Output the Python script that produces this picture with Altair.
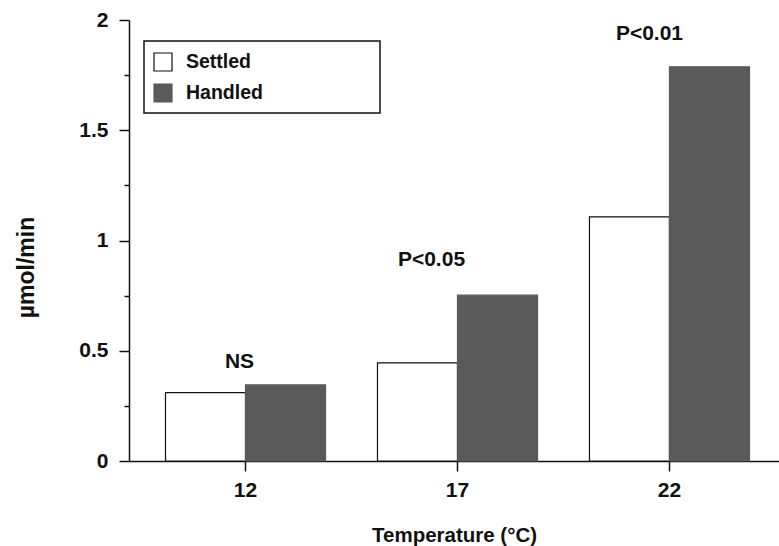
import altair as alt
import pandas as pd

# Oxygen uptake by temperature, settled vs handled animals
temperatures = ["12", "17", "22"]
settled = [0.31, 0.445, 1.107]
handled = [0.345, 0.752, 1.788]
sig_labels = ["NS", "P<0.05", "P<0.01"]
groups = ["Settled", "Handled"]

FONT = "Liberation Sans"
HANDLED_FILL = "#5a5a5a"
INK = "#111"

rows = []
for t, s, h in zip(temperatures, settled, handled):
    rows.append({"Temperature": t, "Group": "Settled", "value": s})
    rows.append({"Temperature": t, "Group": "Handled", "value": h})
bars_df = pd.DataFrame(rows)

sig_df = pd.DataFrame({
    "Temperature": temperatures,
    "label": sig_labels,
    "top": [max(s, h) for s, h in zip(settled, handled)],
})

x_scale = alt.Scale(domain=temperatures, paddingInner=0.245, paddingOuter=0.1557, align=0.553)
y_scale = alt.Scale(domain=[0, 2], nice=False, zero=True)

y_ticks = [i * 0.25 for i in range(9)]
major = "datum.value % 0.5 === 0"

x_axis = alt.Axis(
    title="Temperature (°C)",
    labelAngle=0,
    labelFont=FONT, labelFontSize=21, labelFontWeight="bold", labelColor=INK,
    labelPadding=8,
    tickSize=10, tickColor=INK, tickWidth=1.5,
    domainColor=INK, domainWidth=1.5,
    titleFont=FONT, titleFontSize=20.5, titleFontWeight="bold", titleColor=INK,
    titleY=74, titleBaseline="middle",
    grid=False,
)

y_axis = alt.Axis(
    title="µmol/min",
    values=y_ticks,
    labelExpr=f"{major} ? toString(datum.value) : ''",
    labelFont=FONT, labelFontSize=21, labelFontWeight="bold", labelColor=INK,
    labelPadding=11,
    tickSize={"condition": {"test": major, "value": 10}, "value": 5},
    tickColor=INK, tickWidth=1.5,
    domainColor=INK, domainWidth=1.5,
    titleFont=FONT, titleFontSize=23, titleFontWeight="bold", titleColor=INK,
    titleAngle=-90, titleX=-103, titleY=247,
    titleAlign="center", titleBaseline="middle",
    grid=False,
)

# legend frame
legend_box = alt.Chart(pd.DataFrame({"k": [0]})).mark_rect(
    fill="white", stroke=INK, strokeWidth=1.5
).encode(
    x=alt.value(15), x2=alt.value(251), y=alt.value(21), y2=alt.value(93)
)

bars = alt.Chart(bars_df).mark_bar(strokeWidth=1.2).encode(
    x=alt.X("Temperature:N", scale=x_scale, axis=x_axis, sort=temperatures),
    xOffset=alt.XOffset("Group:N", sort=groups,
                        scale=alt.Scale(domain=groups, paddingInner=0, paddingOuter=0)),
    y=alt.Y("value:Q", scale=y_scale, axis=y_axis),
    fill=alt.Fill(
        "Group:N",
        sort=groups,
        scale=alt.Scale(domain=groups, range=["white", HANDLED_FILL]),
        legend=alt.Legend(
            title=None, orient="none", legendX=24, legendY=32,
            symbolType="square", symbolSize=324,
            symbolStrokeColor=INK, symbolStrokeWidth=1.2,
            labelFont=FONT, labelFontSize=19.5, labelFontWeight="bold", labelColor=INK,
            labelOffset=13, rowPadding=7, padding=0,
        ),
    ),
    stroke=alt.Stroke(
        "Group:N", sort=groups,
        scale=alt.Scale(domain=groups, range=[INK, HANDLED_FILL]),
        legend=None,
    ),
)

# significance labels, nudged individually above each pair
nudges = {"NS": (-6, -23), "P<0.05": (-26, -35), "P<0.01": (-20, -33)}
texts = []
for lab in sig_labels:
    dx, dy = nudges[lab]
    texts.append(
        alt.Chart(sig_df).transform_filter(alt.datum.label == lab).mark_text(
            font=FONT, fontSize=21, fontWeight="bold", color=INK,
            dx=dx, dy=dy, baseline="middle", align="center",
        ).encode(
            x=alt.X("Temperature:N", scale=x_scale, sort=temperatures),
            y=alt.Y("top:Q", scale=y_scale),
            text="label:N",
        )
    )

chart = alt.layer(legend_box, bars, *texts).properties(
    width=650,
    height=441,
    autosize="none",
    padding={"left": 129, "top": 20, "right": 0, "bottom": 85},
    background="white",
).configure_view(stroke=None)

chart.save("out.html", embed_options={"renderer": "svg", "actions": False})
